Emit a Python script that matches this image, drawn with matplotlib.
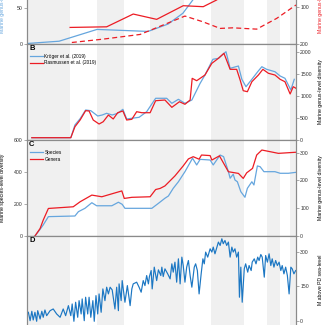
import matplotlib.pyplot as plt

plt.rcParams['font.family'] = ['Liberation Sans', 'DejaVu Sans']

# time axis (Ma) and shaded intervals
t_old, t_young = 497, 419
bands = [(497, 484.5), (476.7, 468.9), (461.3, 451.5), (443.7, 434.1),
         (427.4, 423.6), (420.7, 419)]

# panel A
a_blue_t = [497, 487.7, 476.7, 461.9, 456.1, 451.8, 448.9, 445.4, 438.1]
a_blue_v = [0, 3.2, 19.7, 16.9, 27.2, 42.3, 61, 89, 117]
a_red_t = [484.5, 473.9, 466.2, 459.4, 451.7, 445.9, 442.0, 437.6, 430.0, 419.0]
a_red_v = [155.6, 153.9, 118.6, 133.3, 95.6, 98.3, 79.7, 46.4, 40, 24]
a_dash_t = [484.0, 475.0, 464.2, 457.6, 451.2, 446.0, 441.0, 437.3, 430.4, 424.6, 419.0]
a_dash_v = [197.2, 188, 175, 149.2, 124.2, 140, 158.3, 156.7, 160.3, 130.6, 93.6]

# panel B
kroger_t = [495.6, 484.3, 483.1, 481.6, 480.0, 478.5, 476.5, 475.2, 473.9, 472.3,
            470.7, 469.2, 468.1, 464.5, 462.3, 459.7, 456.5, 455.0, 453.1, 451.2,
            449.2, 446.8, 445.4, 443.1, 441.5, 439.3, 438.1, 435.7, 434.7, 433.5,
            431.8, 430.1, 428.9, 427.5, 425.1, 423.6, 422.2, 420.5, 419.5]
kroger_v = [52, 52, 340, 482, 680, 664, 544, 566, 605, 566,
            605, 695, 476, 514, 641, 945, 945, 831, 922, 831,
            906, 1284, 1472, 1828, 1850, 2000, 1624, 1676, 1375, 1207,
            1375, 1547, 1660, 1601, 1547, 1450, 1398, 1133, 1375]
rasm_t = [495.6, 484.3, 483.1, 481.6, 480.0, 479.0, 477.8, 476.1, 474.9, 473.4,
          472.0, 470.7, 469.2, 468.1, 466.6, 465.2, 463.7, 461.3, 459.7, 457.0,
          455.0, 452.8, 451.2, 449.7, 449.1, 447.8, 445.4, 443.4, 441.5, 439.9,
          438.1, 436.2, 435.2, 434.3, 433.1, 431.8, 429.9, 428.6, 427.0, 425.1,
          423.6, 422.2, 420.7, 419.8, 419.0]
rasm_v = [52, 52, 301, 453, 664, 657, 453, 362, 414, 566,
          476, 618, 657, 453, 469, 641, 618, 618, 890, 906,
          740, 867, 809, 906, 1397, 1343, 1472, 1737, 1850, 1964,
          1601, 1601, 1359, 1117, 1094, 1320, 1472, 1601, 1511, 1472,
          1375, 1320, 1042, 1207, 1171]

# panel C
species_t = [494.7, 493.2, 492.3, 490.8, 483.1, 482.1, 480.2, 478.2, 476.8, 472.4,
             470.5, 469.4, 468.6, 460.8, 458.9, 457.0, 456.0, 454.6, 453.1, 451.2,
             449.0, 447.8, 446.8, 443.9, 443.0, 441.0, 440.0, 438.6, 438.1, 437.2,
             436.7, 436.0, 435.0, 433.8, 433.1, 431.8, 431.2, 430.2, 429.4, 428.3,
             425.1, 423.6, 421.2, 419.0]
species_v = [0, 42, 69, 121, 125, 152, 173, 208, 189, 189,
             211, 198, 173, 173, 204, 236, 250, 298, 339, 402,
             486, 444, 479, 475, 444, 506, 496, 402, 361, 386,
             350, 339, 277, 242, 298, 339, 319, 438, 433, 402,
             402, 392, 392, 398]
genera_t = [494.7, 493.2, 492.3, 490.8, 483.6, 481.6, 478.2, 475.3, 472.0, 469.5,
            468.8, 466.6, 461.3, 459.7, 458.4, 457.0, 454.1, 451.7, 450.2, 448.8,
            447.1, 446.4, 443.9, 443.4, 441.2, 438.6, 435.7, 434.3, 433.3, 431.6,
            430.4, 428.9, 424.1, 419.0]
genera_v = [0, 27, 57, 99, 105, 123, 147, 141, 153, 162,
            135, 139, 141, 167, 171, 180, 216, 252, 277, 285,
            276, 291, 289, 273, 288, 231, 225, 207, 227, 243,
            291, 309, 297, 301]

# panel D
sea_t = [496.6, 496.1, 495.6, 495.2, 494.7, 494.2, 493.9, 493.2, 492.7, 492.3,
         491.8, 491.3, 490.3, 489.4, 488.4, 487.4, 486.5, 485.8, 485.0, 484.3,
         483.9, 483.4, 482.9, 482.3, 481.9, 481.3, 481.0, 480.4, 480.0, 479.4,
         479.0, 478.5, 477.9, 477.5, 477.0, 476.5, 476.1, 475.5, 475.0, 474.4,
         473.9, 473.4, 472.9, 472.3, 471.5, 471.0, 470.5, 470.3, 469.7, 469.4,
         468.9, 468.6, 467.9, 467.1, 466.6, 466.2, 465.2, 464.5, 463.9, 463.3,
         462.8, 462.3, 461.8, 461.5, 461.0, 460.7, 460.1, 459.4, 458.9, 458.2,
         457.9, 457.5, 457.0, 456.2, 455.5, 455.0, 454.6, 454.1, 453.6, 453.1,
         452.6, 452.1, 451.7, 451.2, 450.7, 450.2, 449.7, 449.2, 448.5, 448.1,
         447.6, 447.1, 446.5, 446.0, 445.6, 445.2, 444.6, 443.9, 443.4, 443.0,
         442.5, 441.5, 441.0, 440.5, 440.1, 439.6, 439.1, 438.6, 438.1, 437.6,
         437.2, 436.7, 436.2, 435.7, 435.4, 435.0, 434.6, 434.0, 433.6, 433.0,
         432.6, 432.0, 431.7, 431.1, 430.6, 430.1, 429.7, 429.2, 428.8, 428.2,
         427.8, 427.3, 426.8, 426.3, 425.9, 425.4, 424.9, 424.4, 423.9, 423.4,
         423.0, 422.5, 422.0, 421.5, 421.0, 420.5, 420.1, 419.6, 419.1]
sea_v = [36.8, 0, 41.2, 3.1, 36.8, -2.6, 43.9, 7.5, 41.2, 14.9,
         46.9, 21.9, 43.9, 51.3, 29.4, 14.9, 51.3, 21.9, 65.8, 21.9,
         73.2, -2.6, 80.7, 14.9, 87.7, 29.4, 95.2, 0, 102.6, 29.4,
         102.6, 14.9, 87.7, -2.6, 109.7, 29.4, 117.1, 36.8, 139, 87.7,
         146.5, 117.1, 146.5, 134.6, 51.3, 146.5, 43.9, 161, 87.7, 175.4,
         117.1, 80.7, 153.5, 65.8, 139, 161, 168.4, 146.5, 124.6, 175.4,
         153.5, 197.4, 161, 193, 219.3, 139, 234.2, 175.4, 222.4, 197.4,
         234.2, 193, 226.8, 204.8, 182.9, 248.7, 212.3, 256.1, 168.4, 270.6,
         161, 278, 241.2, 168.4, 234.2, 263.2, 197.4, 146.5, 234.2, 248.7,
         219.3, 117.1, 204.8, 270.6, 248.7, 300, 278, 314.5, 300, 321.9,
         292.5, 343.9, 329, 358.3, 336.4, 350.9, 329, 343.9, 278, 321.9,
         300, 314.5, 278, 300, 102.6, 234.2, 80.7, 226.8, 248.7, 212.3,
         241.2, 219.3, 256.1, 270.6, 248.7, 278, 263.2, 289.5, 278, 190.4,
         285.1, 256.1, 292.5, 241.2, 270.6, 234.2, 263.2, 241.2, 256.1, 219.3,
         241.2, 204.8, 234.2, 197.4, 117.1, 234.2, 226.8, 204.8, 219.3]

blue = '#66a6de'
dblue = '#1c77c3'
red = '#ec1c24'
grey = '#8a8a8a'
fs = 3.7
lw = 0.9

fig = plt.figure(figsize=(3.25, 3.25), dpi=100)


def panel(top, bottom):
    ax = fig.add_axes([27 / 325, 1 - bottom / 325, 269 / 325, (bottom - top) / 325])
    ax.set_xlim(t_old, t_young)
    for b0, b1 in bands:
        ax.axvspan(b0, b1, color='#f0f0f0', lw=0, zorder=0)
    ax.set_xticks([])
    tw = ax.twinx()
    for a in (ax, tw):
        for s in a.spines.values():
            s.set_color(grey)
            s.set_linewidth(0.8)
        a.tick_params(axis='y', direction='out', length=2, width=0.5, color=grey,
                      labelsize=fs, pad=1, labelcolor='#333333')
    return ax, tw


# A
axA, twA = panel(-43, 43.5)
axA.plot(a_blue_t, a_blue_v, color=blue, lw=lw)
twA.plot(a_red_t, a_red_v, color=red, lw=lw)
twA.plot(a_dash_t, a_dash_v, color=red, lw=lw, ls=(0, (4, 2.5)))
axA.set_ylim(0, 121)
axA.set_yticks([0, 50, 100])
twA.set_ylim(200, -39)
twA.set_yticks([200, 100, 0])
axA.set_ylabel('Marine genus-level diversity', fontsize=fs, color=blue)
twA.set_ylabel('Marine genus-level diversity', fontsize=fs, color=red)

# B
axB, twB = panel(43.5, 140)
twB.plot(kroger_t, kroger_v, color=blue, lw=lw, label='Kröger et al. (2019)')
twB.plot(rasm_t, rasm_v, color=red, lw=lw, label='Rasmussen et al. (2019)')
axB.set_yticks([])
twB.set_ylim(0, 2186)
twB.set_yticks([0, 500, 1000, 1500, 2000])
twB.set_ylabel('Marine genus-level diversity', fontsize=fs)
twB.legend(loc='upper left', bbox_to_anchor=(0.0, 0.93), frameon=False, fontsize=3.4,
           handlelength=2.6, handletextpad=0.4, labelspacing=0.35, borderaxespad=0.3)
axB.text(0.008, 0.985, 'B', transform=axB.transAxes, fontsize=5.5, fontweight='bold',
         va='top', ha='left')

# C
axC, twC = panel(140, 236)
axC.plot(species_t, species_v, color=blue, lw=lw, label='Species')
twC.plot(genera_t, genera_v, color=red, lw=lw, label='Genera')
axC.set_ylim(0, 600)
axC.set_yticks([0, 200, 400, 600])
twC.set_ylim(0, 345)
twC.set_yticks([0, 100, 200, 300])
axC.set_ylabel('Marine species-level diversity', fontsize=fs)
twC.set_ylabel('Marine genus-level diversity', fontsize=fs)
hs = axC.get_lines() + twC.get_lines()
twC.legend(hs, [h.get_label() for h in hs], loc='upper left', bbox_to_anchor=(0.0, 0.93),
           frameon=False, fontsize=3.4, handlelength=2.6, handletextpad=0.4,
           labelspacing=0.35, borderaxespad=0.3)
axC.text(0.008, 0.985, 'C', transform=axC.transAxes, fontsize=5.5, fontweight='bold',
         va='top', ha='left')

# D
axD, twD = panel(236, 330)
twD.plot(sea_t, sea_v, color=dblue, lw=0.85)
axD.set_yticks([])
twD.set_ylim(-40.7, 370.4)
twD.set_yticks([0, 150, 300])
twD.set_ylabel('M above PD sea-level', fontsize=fs)
axD.text(0.008, 0.985, 'D', transform=axD.transAxes, fontsize=5.5, fontweight='bold',
         va='top', ha='left')

for a in (axA, axC):
    a.yaxis.set_label_coords(-0.082, 0.5)
for a in (twA, twB, twC):
    a.yaxis.set_label_coords(1.082, 0.5)
twD.yaxis.set_label_coords(1.082, 0.53)

fig.savefig('out.png', dpi=100)
